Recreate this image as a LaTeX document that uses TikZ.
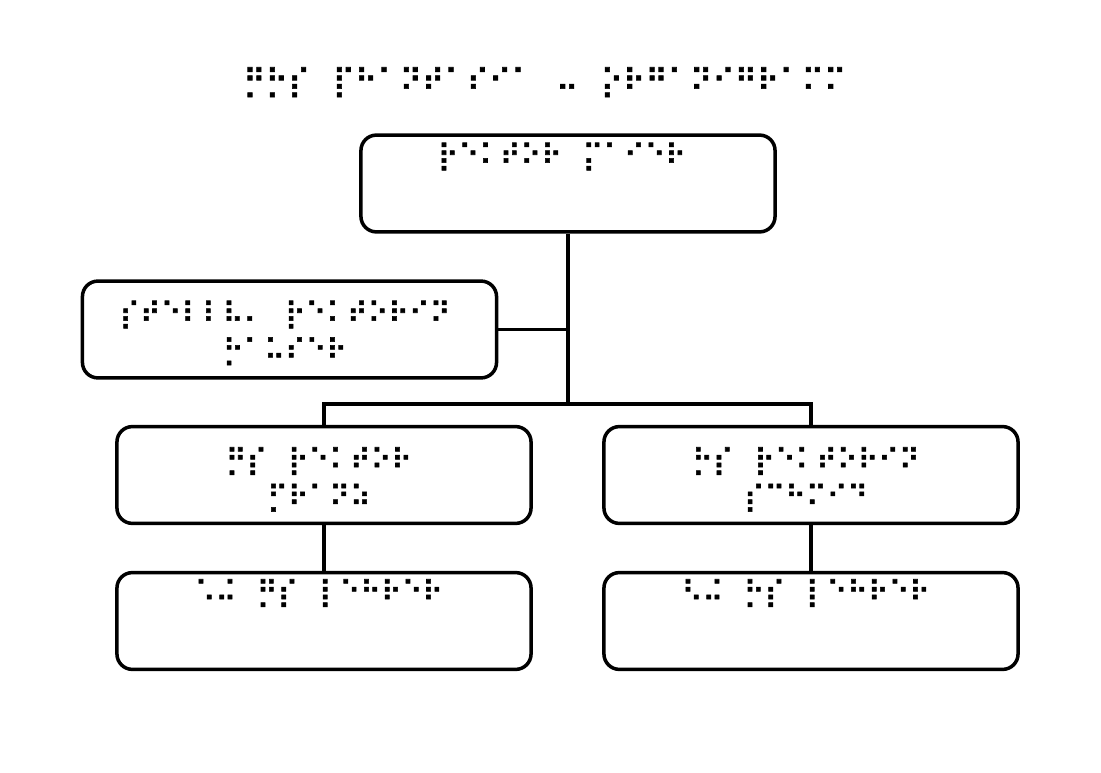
\documentclass[tikz,border=0pt]{standalone}
\usepackage{fontspec}
\usepackage{tikz}
\usetikzlibrary{positioning}
\newfontfamily\braillefont[FakeBold=2]{DejaVu Sans}

\begin{document}
\begin{tikzpicture}[x=0.025cm, y=-0.025cm,
    box/.style={draw, line width=2.5pt, rounded corners=11pt,
      minimum width=10.35cm, minimum height=2.42cm},
    brl/.style={font=\braillefont\fontsize{20.1}{26.1}\selectfont,
      inner sep=0pt, anchor=north, align=center},
    link/.style={line width=2.5pt}]
    \useasboundingbox (0,0) rectangle (1101,773);

    % 标题
    \node[brl, font=\braillefont\fontsize{21.7}{26.1}\selectfont] (titel) at (545,67) {⡛⡓⡎⠀⡏⠓⠁⠝⠞⠁⠎⠊⠁⠀⠤⠀⡕⠗⠛⠁⠝⠊⠛⠗⠁⠍⠍};

    % 方框
    \node[box] (rektor) at (568,183.5) {};
    \node[box] (stellv) at (289.5,329.5) {};
    \node[box] (gs) at (324,475) {};
    \node[box] (hs) at (811,475) {};
    \node[box] (gsl) at (324,621) {};
    \node[box] (hsl) at (811,621) {};

    % 方框里的文字
    \node[brl] (rektortxt) at (562,142.5) {⡗⠑⠅⠞⠕⠗⠀⡍⠁⠊⠑⠗};
    \node[brl] (stellvtxt) at (285,300.5) {⡎⠞⠑⠇⠇⠧⠄⠀⡗⠑⠅⠞⠕⠗⠊⠝\\⡓⠁⠥⠎⠑⠗};
    \node[brl] (gstxt) at (319,447) {⡛⡎⠀⡗⠑⠅⠞⠕⠗\\⡋⠗⠁⠝⠵};
    \node[brl] (hstxt) at (806,447) {⡓⡎⠀⡗⠑⠅⠞⠕⠗⠊⠝\\⡎⠉⠓⠍⠊⠙};
    \node[brl] (gsltxt) at (319,579) {⠡⠬⠀⡛⡎⠀⡇⠑⠓⠗⠑⠗};
    \node[brl] (hsltxt) at (806,579) {⠣⠬⠀⡓⡎⠀⡇⠑⠓⠗⠑⠗};

    % 连线
    \coordinate (split) at (568,404);
    \draw[link] (rektor.south) -- (split);
    \draw[link] (stellv.east) -- (stellv.east -| split);
    \draw[link] (gs.north) |- (split) -| (hs.north);
    \draw[link] (gs.south) -- (gsl.north);
    \draw[link] (hs.south) -- (hsl.north);
\end{tikzpicture}
\end{document}
